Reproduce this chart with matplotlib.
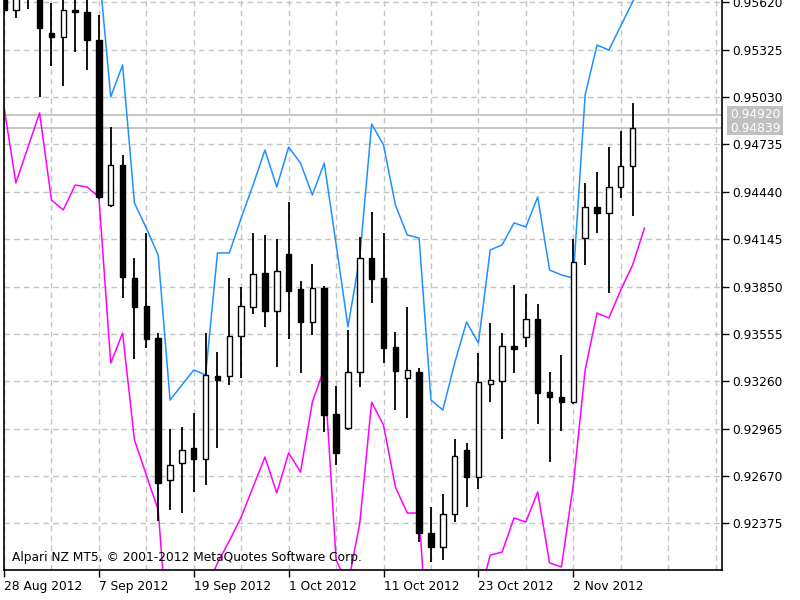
import matplotlib
matplotlib.use('Agg')
import matplotlib.pyplot as plt
import numpy as np
from matplotlib.patches import Rectangle

# daily OHLC, bar 0 = 28 Aug 2012
opens = [0.95760, 0.95572, 0.95720, 0.95680, 0.95429, 0.95404, 0.95572, 0.95560, 0.95386, 0.94358,
         0.94607, 0.93903, 0.93729, 0.93529, 0.92645, 0.92750, 0.92844, 0.92775, 0.93292, 0.93292,
         0.93542, 0.93722, 0.93934, 0.93697, 0.94053, 0.93835, 0.93629, 0.93841, 0.93056, 0.92968,
         0.93317, 0.94028, 0.93903, 0.93473, 0.93280, 0.93317, 0.92314, 0.92227, 0.92433, 0.92831,
         0.92663, 0.93243, 0.93261, 0.93479, 0.93535, 0.93648, 0.93193, 0.93162, 0.93130, 0.94152,
         0.94345, 0.94308, 0.94470, 0.94601]
highs = [0.95780, 0.95720, 0.95760, 0.95720, 0.95616, 0.95640, 0.95640, 0.95640, 0.95541, 0.94844,
         0.94669, 0.94028, 0.94183, 0.93560, 0.92962, 0.92975, 0.93062, 0.93560, 0.93442, 0.93903,
         0.93847, 0.94183, 0.94171, 0.94146, 0.94376, 0.93884, 0.93990, 0.93853, 0.93230, 0.93579,
         0.94159, 0.94314, 0.94183, 0.93567, 0.93722, 0.93342, 0.92476, 0.92557, 0.92900, 0.92875,
         0.93436, 0.93623, 0.93560, 0.93859, 0.93804, 0.93741, 0.93317, 0.93423, 0.94146, 0.94495,
         0.94563, 0.94719, 0.94819, 0.94993]
lows = [0.95541, 0.95523, 0.95579, 0.95031, 0.95224, 0.95099, 0.95311, 0.95199, 0.94395, 0.94345,
        0.93778, 0.93398, 0.93467, 0.92389, 0.92458, 0.92439, 0.92570, 0.92613, 0.92844, 0.93236,
        0.93280, 0.93679, 0.93598, 0.93349, 0.93523, 0.93311, 0.93548, 0.92944, 0.92738, 0.92956,
        0.93224, 0.93747, 0.93373, 0.93081, 0.93031, 0.92258, 0.92134, 0.92146, 0.92383, 0.92476,
        0.92589, 0.93130, 0.92900, 0.93311, 0.93473, 0.92993, 0.92757, 0.92950, 0.93118, 0.93984,
        0.94183, 0.93810, 0.94401, 0.94289]
closes = [0.95572, 0.95700, 0.95690, 0.95460, 0.95404, 0.95572, 0.95560, 0.95386, 0.94408, 0.94607,
          0.93909, 0.93722, 0.93523, 0.92626, 0.92738, 0.92831, 0.92775, 0.93299, 0.93268, 0.93542,
          0.93729, 0.93928, 0.93697, 0.93947, 0.93822, 0.93629, 0.93841, 0.93049, 0.92813, 0.93317,
          0.94028, 0.93897, 0.93467, 0.93324, 0.93330, 0.92314, 0.92227, 0.92433, 0.92794, 0.92663,
          0.93255, 0.93268, 0.93479, 0.93461, 0.93648, 0.93187, 0.93162, 0.93130, 0.94003, 0.94345,
          0.94308, 0.94470, 0.94601, 0.94839]

# channel lines (one point per bar, bars 0..54)
upper = [0.95900, 0.95900, 0.95900, 0.95900, 0.95900, 0.95900, 0.95900, 0.95900, 0.95834, 0.95031,
         0.95230, 0.94370, 0.94214, 0.94046, 0.93143, 0.93236, 0.93330, 0.93299, 0.94059, 0.94059,
         0.94277, 0.94482, 0.94700, 0.94470, 0.94719, 0.94619, 0.94420, 0.94619, 0.94115, 0.93598,
         0.94034, 0.94862, 0.94732, 0.94358, 0.94171, 0.94152, 0.93143, 0.93081, 0.93373, 0.93629,
         0.93498, 0.94078, 0.94109, 0.94246, 0.94221, 0.94408, 0.93953, 0.93922, 0.93903, 0.95043,
         0.95354, 0.95323, 0.95473, 0.95622, 0.95759]
lower = [0.94968, 0.94495, 0.94713, 0.94931, 0.94389, 0.94327, 0.94482, 0.94470, 0.94408, 0.93373,
         0.93560, 0.92894, 0.92676, 0.92458, 0.91492, 0.91274, 0.91586, 0.91959, 0.92128, 0.92265,
         0.92414, 0.92601, 0.92788, 0.92564, 0.92813, 0.92694, 0.93130, 0.93342, 0.92147, 0.91991,
         0.92377, 0.93130, 0.92987, 0.92601, 0.92439, 0.92439, 0.91274, 0.91274, 0.91274, 0.91399,
         0.91897, 0.92177, 0.92196, 0.92408, 0.92383, 0.92570, 0.92128, 0.92103, 0.92614, 0.93330,
         0.93685, 0.93654, 0.93828, 0.93984, 0.94214]

date_labels = ['28 Aug 2012', '7 Sep 2012', '19 Sep 2012', '1 Oct 2012',
               '11 Oct 2012', '23 Oct 2012', '2 Nov 2012']
price_ticks = [0.92375, 0.92670, 0.92965, 0.93260, 0.93555, 0.93850,
               0.94145, 0.94440, 0.94735, 0.95030, 0.95325, 0.95620]
ask_price = 0.94920
bid_price = 0.94839

plt.rcParams['font.family'] = ['DejaVu Sans']
fig = plt.figure(figsize=(8, 6), dpi=100)
ax = fig.add_axes([4 / 800, 30 / 600, 718.3 / 800, 570 / 600])

n = len(opens)
xs = np.arange(n)

# grid
ax.set_xticks(np.arange(0, 61, 4), minor=True)
ax.set_xticks(np.arange(0, 49, 8))
ax.set_xticklabels(date_labels)
ax.set_yticks(price_ticks)
ax.set_yticklabels([f'{p:.5f}' for p in price_ticks])
ax.grid(True, which='both', color='#c4c4c4', linestyle=(0, (4, 3)), linewidth=1.0)
ax.set_axisbelow(True)

# bid / ask lines
ax.axhline(ask_price, color='#c0c0c0', lw=1.3, zorder=1)
ax.axhline(bid_price, color='#c0c0c0', lw=1.3, zorder=1)

# channel
ax.plot(np.arange(len(upper)), upper, color='#1e90ff', lw=1.1, zorder=2)
ax.plot(np.arange(len(lower)), lower, color='#ff00ff', lw=1.1, zorder=2)

# candles
ax.vlines(xs, lows, highs, color='black', lw=1.3, zorder=3)
w = 0.46
min_h = 0.00008
for i in range(n):
    o, c = opens[i], closes[i]
    bottom = min(o, c)
    h = max(abs(c - o), min_h)
    face = 'white' if c > o else 'black'
    ax.add_patch(Rectangle((i - w / 2, bottom), w, h, facecolor=face,
                           edgecolor='black', lw=1.0, zorder=4))

ax.set_xlim(0, 718.3 / 11.86)
ax.set_ylim(0.920842, 0.956347)

ax.spines['top'].set_visible(False)
ax.spines['left'].set_visible(True)
for s in ['left', 'bottom', 'right']:
    ax.spines[s].set_color('black')
    ax.spines[s].set_linewidth(1.2)

ax.yaxis.tick_right()
ax.tick_params(axis='y', which='major', direction='out', length=5, width=1, pad=2,
               labelsize=8.8, colors='black')
ax.tick_params(axis='x', which='major', direction='out', length=5, width=1, pad=2,
               labelsize=8.8, colors='black')
ax.tick_params(axis='x', which='minor', length=0)
for lab in ax.get_xticklabels():
    lab.set_horizontalalignment('left')

# price labels for bid/ask
fig.patches.append(Rectangle((727 / 800, 1 - 135 / 600), 56 / 800, 29 / 600,
                             transform=fig.transFigure, facecolor='#c0c0c0',
                             edgecolor='none'))
fig.text(730 / 800, 1 - 114.5 / 600, f'{ask_price:.5f}', color='white', fontsize=8.8,
         va='center', ha='left')
fig.text(730 / 800, 1 - 128 / 600, f'{bid_price:.5f}', color='white', fontsize=8.8,
         va='center', ha='left')

ax.text(8 / 718.3, 1 - 558 / 570, 'Alpari NZ MT5, © 2001-2012 MetaQuotes Software Corp.',
        transform=ax.transAxes, fontsize=8.8, va='center', ha='left', color='black', zorder=6)

fig.savefig('out.png', dpi=100)
